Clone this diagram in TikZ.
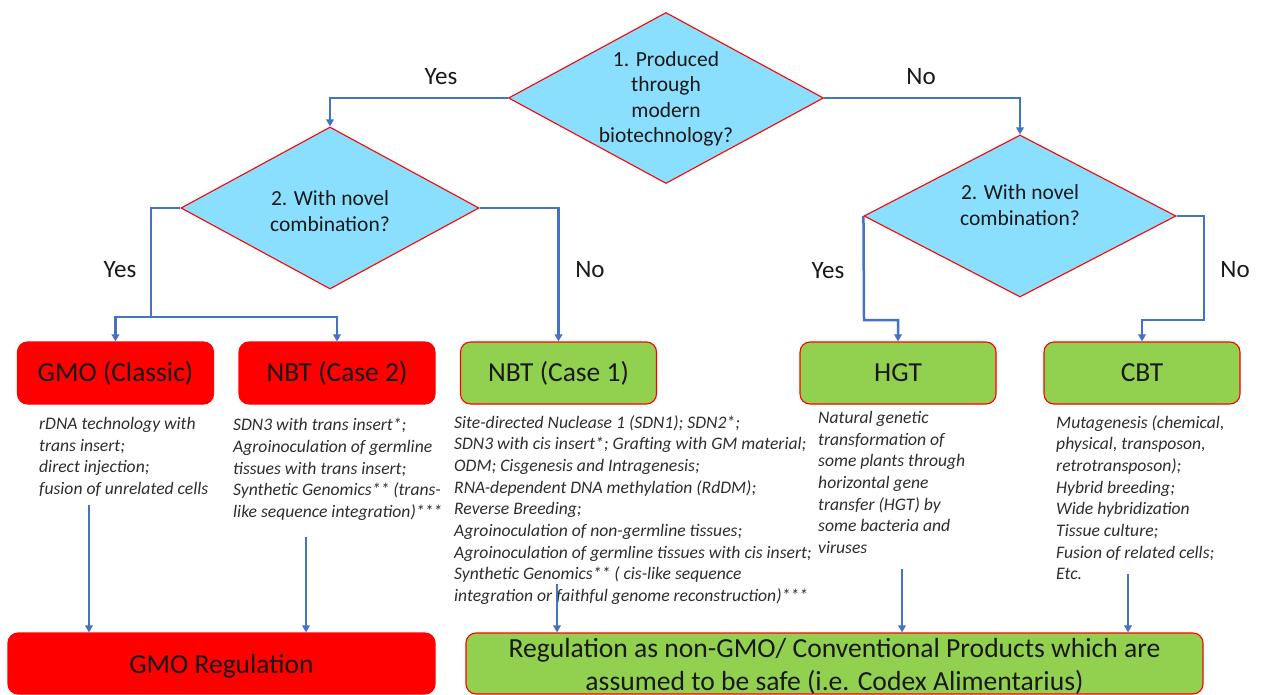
\documentclass[tikz,border=0pt]{standalone}
\usepackage{fontspec}
\setmainfont{Carlito}
\usetikzlibrary{shapes.geometric,arrows.meta}
\definecolor{diafill}{RGB}{138,223,255}
\definecolor{conblue}{RGB}{68,114,196}
\definecolor{boxgreen}{RGB}{146,208,80}
\definecolor{boxred}{RGB}{255,0,0}
\definecolor{desctext}{RGB}{45,45,45}
\begin{document}
\begin{tikzpicture}[x=1pt,y=-1pt,
  dia/.style={diamond, draw=boxred, line width=1.1pt, fill=diafill, inner sep=0pt},
  qtext/.style={font=\fontsize{21.5}{25.3}\selectfont, align=center, inner sep=0pt, text=black!90},
  basebox/.style={rectangle, rounded corners=10pt, minimum width=196pt, minimum height=62pt, inner sep=0pt, line width=1.1pt, font=\fontsize{27.5}{33}\selectfont, text=black!90, text height=23pt, text depth=5.5pt},
  redbox/.style={basebox, fill=boxred, draw=boxred},
  greenbox/.style={basebox, fill=boxgreen, draw=boxred},
  yn/.style={font=\fontsize{25}{30}\selectfont, inner sep=0pt, text=black!90},
  desc/.style={font=\fontsize{17.6}{21.7}\selectfont\itshape, align=left, anchor=north west, inner sep=0pt, text=desctext},
  conn/.style={draw=conblue, line width=2.5pt},
  arr/.style={conn, -{Triangle[length=7pt,width=7.5pt]}}
]
\useasboundingbox (0,0) rectangle (1263,695);

% decision diamonds
\node[dia, minimum width=315pt, minimum height=171pt] (d1) at (666,98) {};
\node[qtext] (d1t) at (666,99) {1. Produced\\through\\modern\\biotechnology?};
\node[dia, minimum width=298pt, minimum height=162pt] (d2l) at (330,208) {};
\node[qtext] (d2lt) at (330,211) {2. With novel\\combination?};
\node[dia, minimum width=312pt, minimum height=162pt] (d2r) at (1020,216) {};
\node[qtext] (d2rt) at (1020,205) {2. With novel\\combination?};

% category boxes
\node[redbox] (gmo) at (115.5,373) {GMO (Classic)};
\node[redbox] (nbt2) at (337,373) {NBT (Case 2)};
\node[greenbox] (nbt1) at (558.5,373) {NBT (Case 1)};
\node[greenbox] (hgt) at (898,373) {HGT};
\node[greenbox] (cbt) at (1142,373) {CBT};

% regulation boxes
\node[redbox, minimum width=427pt, minimum height=61pt, text height=25pt] (gmoreg) at (221.5,663.5) {GMO Regulation};
\node[greenbox, minimum width=737pt, minimum height=61pt] (conv) at (834.5,663.5) {};
\node[font=\fontsize{27.6}{33}\selectfont, align=center, inner sep=0pt, text=black!90] (convt) at (834.5,666) {Regulation as non-GMO/ Conventional Products which are\\assumed to be safe (i.e. Codex Alimentarius)};

% descriptions
\node[desc] (gmod) at (39,417) {rDNA technology with\\trans insert;\\direct injection;\\fusion of unrelated cells};
\node[desc] (nbt2d) at (233,418) {SDN3 with trans insert*;\\Agroinoculation of germline\\tissues with trans insert;\\Synthetic Genomics** (trans-\\like sequence integration)***};
\node[desc] (nbt1d) at (454,415) {Site-directed Nuclease 1 (SDN1); SDN2*;\\SDN3 with cis insert*; Grafting with GM material;\\ODM; Cisgenesis and Intragenesis;\\RNA-dependent DNA methylation (RdDM);\\Reverse Breeding;\\Agroinoculation of non-germline tissues;\\Agroinoculation of germline tissues with cis insert;\\Synthetic Genomics** ( cis-like sequence\\integration or faithful genome reconstruction)***};
\node[desc] (hgtd) at (818,411) {Natural genetic\\transformation of\\some plants through\\horizontal gene\\transfer (HGT) by\\some bacteria and\\viruses};
\node[desc] (cbtd) at (1056,415) {Mutagenesis (chemical,\\physical, transposon,\\retrotransposon);\\Hybrid breeding;\\Wide hybridization\\Tissue culture;\\Fusion of related cells;\\Etc.};

% yes / no labels
\node[yn] (y1) at (441,77) {Yes};
\node[yn] (n1) at (921,77) {No};
\node[yn] (y2l) at (120,270) {Yes};
\node[yn] (n2l) at (590,270) {No};
\node[yn] (y2r) at (828,271) {Yes};
\node[yn] (n2r) at (1235,270) {No};

% junction points
\coordinate (jl) at (151,317);
\coordinate (jy) at (864,320);
\coordinate (jn) at (1204,320);
\coordinate (a1) at (89,505);
\coordinate (a2) at (306,537);
\coordinate (a3) at (557,584);
\coordinate (a4) at (902,569);
\coordinate (a5) at (1128,574);

% connectors
\draw[arr] (d1.west) -| (d2l.north);
\draw[arr] (d1.east) -| (d2r.north);
\draw[conn] (d2l.west) -| (jl);
\draw[arr] (jl) -| (gmo.north);
\draw[arr] (jl) -| (nbt2.north);
\draw[arr] (d2l.east) -| (nbt1.north);
\draw[arr] (d2r.west) -- (jy) -| (hgt.north);
\draw[arr] (d2r.east) -| (jn) -| (cbt.north);
\draw[arr] (a1) -- (a1 |- gmoreg.north);
\draw[arr] (a2) -- (a2 |- gmoreg.north);
\draw[arr] (a3) -- (a3 |- conv.north);
\draw[arr] (a4) -- (a4 |- conv.north);
\draw[arr] (a5) -- (a5 |- conv.north);
\end{tikzpicture}
\end{document}
